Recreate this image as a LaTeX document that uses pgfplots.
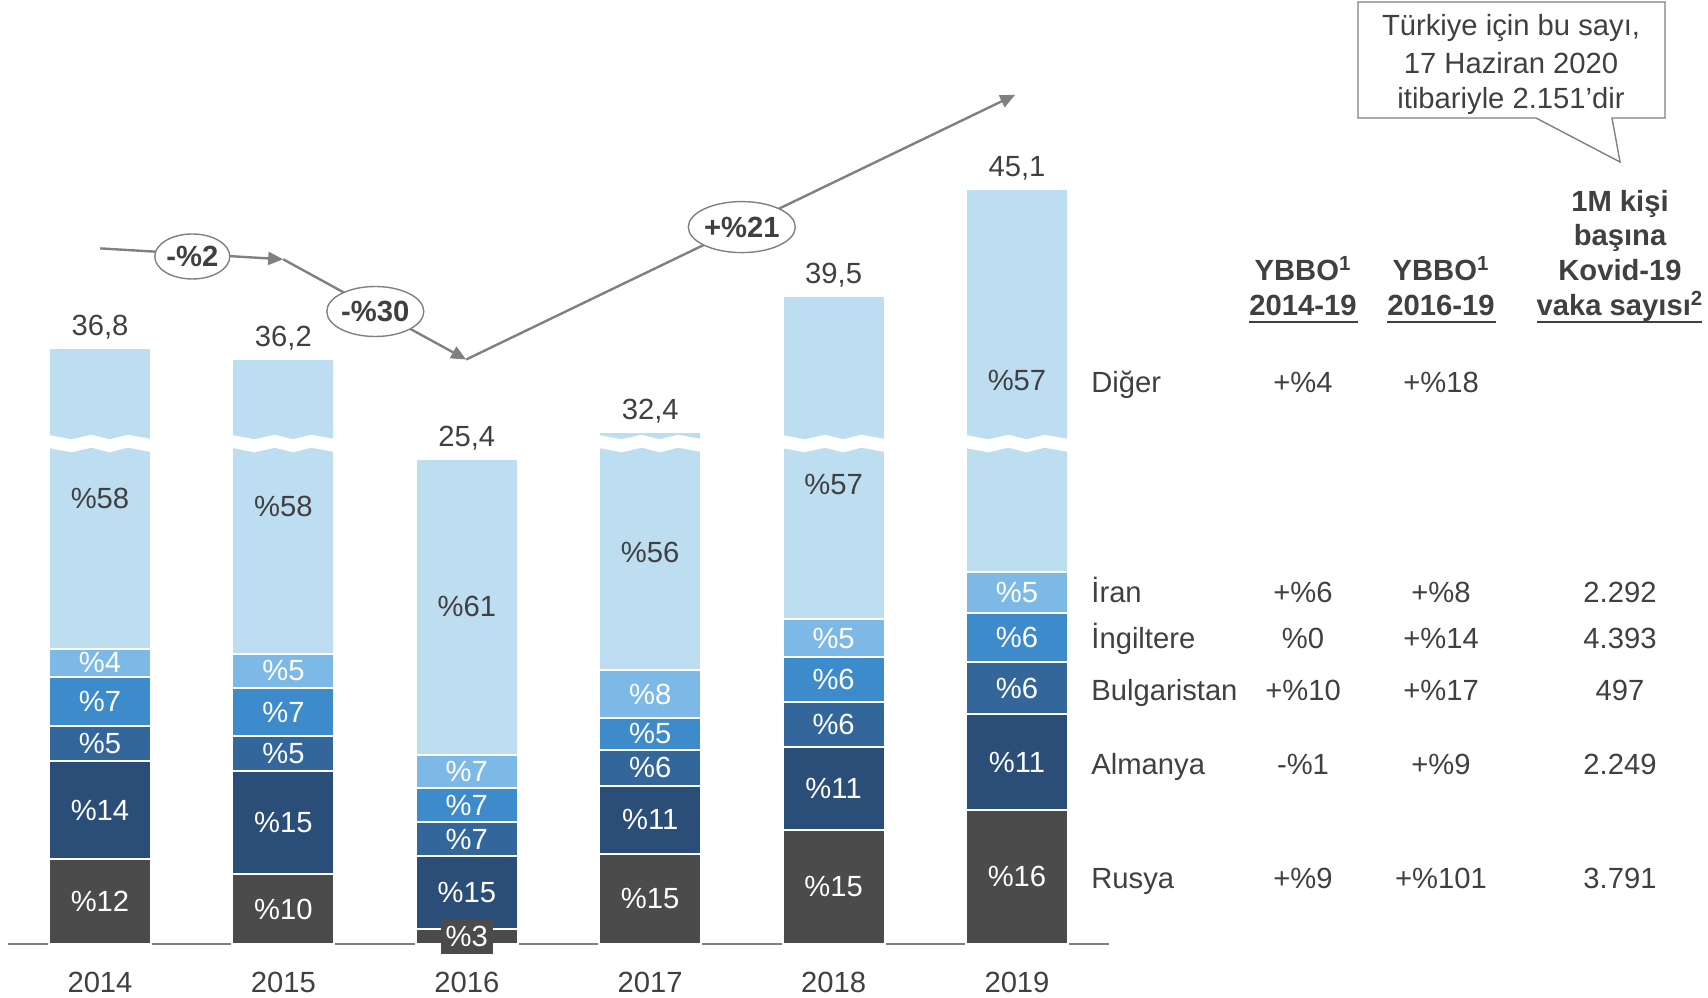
\documentclass[border=0pt]{standalone}
\usepackage{fontspec}
\setmainfont{Liberation Sans}
\usepackage{pgfplots}
\pgfplotsset{compat=1.18}
\usetikzlibrary{shapes.geometric,arrows.meta}

\definecolor{rus}{HTML}{4B4B4B}
\definecolor{alm}{HTML}{2A4E77}
\definecolor{bul}{HTML}{33669A}
\definecolor{ing}{HTML}{3D8BCB}
\definecolor{irn}{HTML}{7DB9E6}
\definecolor{dig}{HTML}{BDDDF1}
\definecolor{agray}{HTML}{808080}
\definecolor{tgray}{HTML}{404040}
\newcommand\fs{\fontsize{14.6}{17}\selectfont}

% axis box: 1 px of the reference = 0.5pt
\pgfplotsset{
  frame/.style={scale only axis, width=550.2pt, height=471.75pt,
    xmin=-0.5, xmax=5.5, ymin=0, ymax=49.48, clip=false},
  lbl/.style={draw=none, mark=none, nodes near coords, point meta=explicit symbolic,
    every node near coord/.append style={anchor=center, inner sep=0pt, font=\fs, text=#1}},
}

\begin{document}
\begin{tikzpicture}[
  txt/.style={font=\fs, text=tgray, inner sep=0pt, anchor=base},
  hdr/.style={font=\fs\bfseries, text=tgray, inner sep=0pt, anchor=base},
]
\useasboundingbox (-4.15pt,-26.75pt) rectangle (849.85pt,471.75pt);

% Diğer is drawn with 5.55 cut out of it (broken axis) except 2016
\begin{axis}[frame,
  ybar stacked, bar width=51pt,
  axis x line*=bottom, axis y line=none,
  x axis line style={draw=agray, line width=1pt},
  xtick={0,...,5}, xticklabels={2014,2015,2016,2017,2018,2019},
  major tick length=0pt,
  xticklabel style={font=\fs, text=tgray, anchor=base, inner sep=0pt, yshift=-24.5pt},
  every axis plot/.append style={draw=white, line width=1pt},
]
\addplot[fill=rus] coordinates {(0,4.42) (1,3.62) (2,0.76) (3,4.69) (4,5.93) (5,7.00)};
\addplot[fill=alm] coordinates {(0,5.15) (1,5.43) (2,3.81) (3,3.57) (4,4.35) (5,5.03)};
\addplot[fill=bul] coordinates {(0,1.84) (1,1.81) (2,1.78) (3,1.89) (4,2.37) (5,2.73)};
\addplot[fill=ing] coordinates {(0,2.58) (1,2.53) (2,1.78) (3,1.67) (4,2.37) (5,2.59)};
\addplot[fill=irn] coordinates {(0,1.47) (1,1.81) (2,1.78) (3,2.52) (4,1.98) (5,2.13)};
\addplot[fill=dig] coordinates {(0,15.79) (1,15.45) (2,15.49) (3,12.51) (4,16.95) (5,20.07)};
\end{axis}

% break marks
\begin{scope}[shift={(-4.15pt,471.75pt)}, x=0.5pt, y=-0.5pt]
\foreach \c in {100,283.4,650.2,833.6,1017}{
  \fill[white, shift={(\c,0)}] (-53,434.7) -- (-28.8,439.3) -- (-8.6,434.7) -- (9.6,439.3)
    -- (27.8,434.7) -- (53,439.3) -- (53,452.3) -- (27.8,447.7) -- (9.6,452.3)
    -- (-8.6,447.7) -- (-28.8,452.3) -- (-53,447.7) -- cycle;
}
\end{scope}

% segment labels and totals
\begin{axis}[frame, hide axis]
\addplot[lbl=white] coordinates {(0,2.21)[\%12] (1,1.81)[\%10] (3,2.35)[\%15] (4,2.97)[\%15] (5,3.5)[\%16]};
\addplot[lbl=white, every node near coord/.append style={fill=rus, inner xsep=2.5pt, inner ysep=3.5pt}]
  coordinates {(2,0.38)[\%3]};
\addplot[lbl=white] coordinates {(0,7.0)[\%14] (1,6.34)[\%15] (2,2.67)[\%15] (3,6.48)[\%11] (4,8.11)[\%11] (5,9.52)[\%11]};
\addplot[lbl=white] coordinates {(0,10.49)[\%5] (1,9.96)[\%5] (2,5.46)[\%7] (3,9.21)[\%6] (4,11.47)[\%6] (5,13.4)[\%6]};
\addplot[lbl=white] coordinates {(0,12.70)[\%7] (1,12.13)[\%7] (2,7.24)[\%7] (3,10.99)[\%5] (4,13.84)[\%6] (5,16.05)[\%6]};
\addplot[lbl=white] coordinates {(0,14.73)[\%4] (1,14.30)[\%5] (2,9.02)[\%7] (3,13.08)[\%8] (4,16.01)[\%5] (5,18.41)[\%5]};
\addplot[lbl=tgray] coordinates {(0,23.36)[\%58] (1,22.93)[\%58] (2,17.66)[\%61] (3,20.53)[\%56] (4,24.06)[\%57] (5,29.5)[\%57]};
\addplot[lbl=tgray, every node near coord/.append style={anchor=base, yshift=6.2pt}]
  coordinates {(0,31.25)[36,8] (1,30.65)[36,2] (2,25.4)[25,4] (3,26.85)[32,4] (4,33.95)[39,5] (5,39.55)[45,1]};
\end{axis}

\begin{scope}[shift={(-4.15pt,471.75pt)}, x=0.5pt, y=-0.5pt]
% growth arrows
\begin{scope}[agray, line width=1.2pt, -{Triangle[length=7.5pt,width=6.5pt]}]
\draw (100.2,248.4) -- (283.2,259.3);
\draw (283.2,259.3) -- (466.2,359.5);
\draw (466.2,359.5) -- (1015.2,94.8);
\end{scope}
\begin{scope}[every node/.style={ellipse, draw=agray, line width=0.7pt, fill=white, inner sep=0pt,
    font=\fs\bfseries, text=tgray}]
\node[minimum width=37.5pt, minimum height=22.5pt] at (192.3,256.5) {-\%2};
\node[minimum width=48.5pt, minimum height=25pt] at (375.3,311.5) {-\%30};
\node[minimum width=53.5pt, minimum height=25.5pt] at (741.8,227.1) {+\%21};
\end{scope}

% callout
\draw[agray, line width=0.7pt, fill=white] (1358,2) -- (1665,2) -- (1665,118) -- (1612,118)
  -- (1620,162) -- (1536,118) -- (1358,118) -- cycle;
\node[txt] at (1511,35.5) {Türkiye için bu sayı,};
\node[txt] at (1511,73.5) {17 Haziran 2020};
\node[txt] at (1511,108.5) {itibariyle 2.151’dir};

% table headers
\node[hdr] at (1303,280.5) {YBBO\textsuperscript{1}};
\node[hdr] at (1303,315.5) {2014-19};
\node[hdr] at (1441,280.5) {YBBO\textsuperscript{1}};
\node[hdr] at (1441,315.5) {2016-19};
\node[hdr] at (1620,212) {1M kişi};
\node[hdr] at (1620,245.5) {başına};
\node[hdr] at (1620,280.5) {Kovid-19};
\node[hdr] at (1620,315.5) {vaka sayısı\textsuperscript{2}};
\draw[tgray, line width=1.3pt] (1249,322) -- (1358,322) (1387,322) -- (1496,322) (1537,322) -- (1702,322);

% table rows
\foreach \y/\n/\a/\b/\k in {392.5/Diğer/+\%4/+\%18/,
    602.5/İran/+\%6/+\%8/2.292,
    648.5/İngiltere/\%0/+\%14/4.393,
    700.5/Bulgaristan/+\%10/+\%17/497,
    774.5/Almanya/-\%1/+\%9/2.249,
    888.5/Rusya/+\%9/+\%101/3.791}{
  \node[txt, anchor=base west] at (1091,\y) {\n};
  \node[txt] at (1303,\y) {\a};
  \node[txt] at (1441,\y) {\b};
  \node[txt] at (1620,\y) {\k};
}
\end{scope}
\end{tikzpicture}
\end{document}
